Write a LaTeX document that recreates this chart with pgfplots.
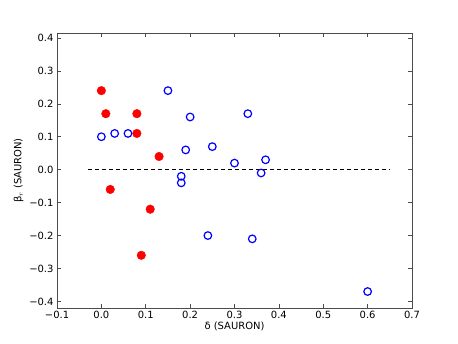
\documentclass[border=0pt]{standalone}
\usepackage{fontspec}
\setmainfont{DejaVu Sans}
\usepackage{pgfplots}
\pgfplotsset{compat=1.18}

\begin{document}
\begin{tikzpicture}
\begin{axis}[
    scale only axis,
    width=355bp,
    height=275bp,
    xmin=-0.1, xmax=0.7,
    ymin=-0.42, ymax=0.415,
    xtick={-0.1,0,0.1,0.2,0.3,0.4,0.5,0.6,0.7},
    xticklabels={−0.1,0.0,0.1,0.2,0.3,0.4,0.5,0.6,0.7},
    ytick={-0.4,-0.3,-0.2,-0.1,0,0.1,0.2,0.3,0.4},
    yticklabels={−0.4,−0.3,−0.2,−0.1,0.0,0.1,0.2,0.3,0.4},
    tick align=inside,
    major tick length=4bp,
    tick style={black!70, line width=0.6pt},
    axis line style={black!70, line width=0.8pt},
    ticklabel style={font=\fontsize{10}{12}\selectfont},
    label style={font=\fontsize{10}{12}\selectfont},
    xlabel={δ (SAURON)},
    ylabel={β$_r$ (SAURON)},
    xlabel style={yshift=4bp},
    ylabel style={yshift=-1bp},
    clip=false,
]
\addplot[black, dashed, line width=0.7pt, dash pattern=on 4bp off 3bp]
    coordinates {(-0.03,0) (0.65,0)};

% red: filled
\addplot[only marks, mark=*, mark size=4.3bp, color=red, mark options={fill=red, draw=red}]
    coordinates {
    (0.00,0.24) (0.01,0.17) (0.08,0.17) (0.08,0.11) (0.13,0.04)
    (0.02,-0.06) (0.11,-0.12) (0.09,-0.26)
    };

% blue: open
\addplot[only marks, mark=o, mark size=3.8bp, color=blue, mark options={line width=1.2pt, fill=white}]
    coordinates {
    (0.00,0.10) (0.03,0.11) (0.06,0.11) (0.15,0.24) (0.20,0.16)
    (0.19,0.06) (0.25,0.07) (0.18,-0.02) (0.18,-0.04) (0.30,0.02)
    (0.33,0.17) (0.37,0.03) (0.36,-0.01) (0.24,-0.20) (0.34,-0.21)
    (0.60,-0.37)
    };
\end{axis}
\pgfresetboundingbox
\path[use as bounding box] ([shift={(-57bp,-35bp)}]current axis.south west)
    rectangle ([shift={(46bp,33bp)}]current axis.north east);
\end{tikzpicture}
\end{document}
